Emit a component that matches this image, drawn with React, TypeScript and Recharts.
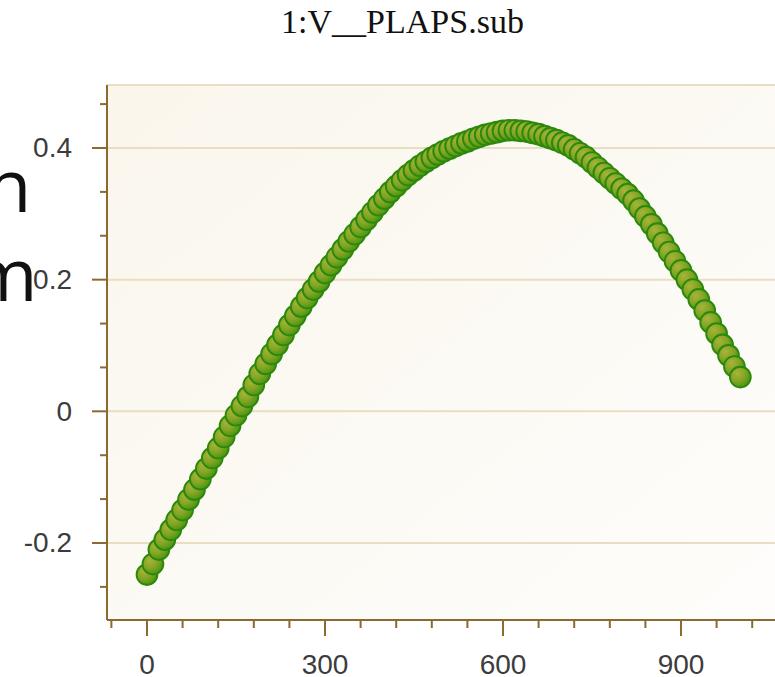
import React from "react";
import { CartesianGrid, Scatter, ScatterChart, XAxis, YAxis } from "recharts";

const sweepX = [
  0, 10, 20, 30, 40, 50, 60, 70, 80, 90,
  100, 110, 120, 130, 140, 150, 160, 170, 180, 190,
  200, 210, 220, 230, 240, 250, 260, 270, 280, 290,
  300, 310, 320, 330, 340, 350, 360, 370, 380, 390,
  400, 410, 420, 430, 440, 450, 460, 470, 480, 490,
  500, 510, 520, 530, 540, 550, 560, 570, 580, 590,
  600, 610, 620, 630, 640, 650, 660, 670, 680, 690,
  700, 710, 720, 730, 740, 750, 760, 770, 780, 790,
  800, 810, 820, 830, 840, 850, 860, 870, 880, 890,
  900, 910, 920, 930, 940, 950, 960, 970, 980, 990,
  1000,
];
const sweepY = [
  -0.248, -0.232, -0.21, -0.195, -0.18, -0.165, -0.15, -0.134, -0.119, -0.103,
  -0.087, -0.071, -0.056, -0.039, -0.022, -0.006, 0.008, 0.022, 0.04, 0.057,
  0.072, 0.087, 0.101, 0.116, 0.131, 0.145, 0.159, 0.172, 0.185, 0.197,
  0.21, 0.222, 0.234, 0.246, 0.258, 0.269, 0.28, 0.291, 0.302, 0.313,
  0.323, 0.333, 0.342, 0.351, 0.359, 0.366, 0.373, 0.379, 0.385, 0.39,
  0.395, 0.399, 0.403, 0.407, 0.41, 0.414, 0.417, 0.42, 0.422, 0.424,
  0.426, 0.427, 0.427, 0.426, 0.425, 0.423, 0.421, 0.418, 0.415, 0.412,
  0.408, 0.404, 0.398, 0.392, 0.386, 0.378, 0.37, 0.362, 0.354, 0.346,
  0.338, 0.33, 0.32, 0.308, 0.296, 0.284, 0.27, 0.256, 0.242, 0.228,
  0.214, 0.2, 0.185, 0.17, 0.153, 0.135, 0.118, 0.101, 0.085, 0.068,
  0.052,
];

const xTicks = [-60, 0, 60, 120, 180, 240, 300, 360, 420, 480, 540, 600, 660, 720, 780, 840, 900, 960, 1020];
const xLabels = [0, 300, 600, 900];
const yTicks = [-0.2667, -0.2, -0.1333, -0.0667, 0, 0.0667, 0.1333, 0.2, 0.2667, 0.3333, 0.4, 0.4667];
const yLabels = [-0.2, 0, 0.2, 0.4];
const gridValues = [-0.2, 0, 0.2, 0.4, 0.4957];

const points = sweepX.map((x, i) => ({ x, y: sweepY[i] }));

const AXIS = "#8a6a30";
const LABEL = "#3c3c3c";
const TICK_FONT = "'Liberation Sans', Arial, sans-serif";

const XTick = (props: any) => {
  const { x, y, payload } = props;
  const major = xLabels.includes(payload.value);
  return (
    <g>
      <line x1={x} x2={x} y1={y} y2={y + (major ? 16 : 8)} stroke={AXIS} strokeWidth={2} />
      {major && (
        <text x={x} y={y + 44} textAnchor="middle" dominantBaseline="central"
          fontFamily={TICK_FONT} fontSize={28} fill={LABEL}>
          {payload.value}
        </text>
      )}
    </g>
  );
};

const YTick = (props: any) => {
  const { x, y, payload } = props;
  const major = yLabels.includes(payload.value);
  return (
    <g>
      <line x1={x - (major ? 15 : 7)} x2={x} y1={y} y2={y} stroke={AXIS} strokeWidth={2} />
      {major && (
        <text x={x - 35} y={y} textAnchor="end" dominantBaseline="central"
          fontFamily={TICK_FONT} fontSize={28} fill={LABEL}>
          {String(payload.value)}
        </text>
      )}
    </g>
  );
};

const Dot = (props: any) => {
  const { cx, cy } = props;
  if (cx == null || cy == null) return null;
  return <circle cx={cx} cy={cy} r={10.4} fill="url(#dotFill)" stroke="#2a890b" strokeWidth={1.9} />;
};

export default function App() {
  return (
    <div style={{ position: "absolute", left: 0, top: 0, width: 775, height: 677, overflow: "hidden", background: "#fff" }}>
      <div style={{
        position: "absolute", left: 0, right: 0, top: 3, textAlign: "center",
        fontFamily: "'Liberation Serif', 'Times New Roman', serif", fontSize: 34, color: "#111",
        paddingLeft: 30,
      }}>
        1:V__PLAPS.sub
      </div>
      <div style={{ position: "absolute", left: -14, top: 139, fontFamily: "'Open Sans', sans-serif", fontSize: 74, lineHeight: "90px", color: "#111" }}>
        n
      </div>
      <div style={{ position: "absolute", left: -31, top: 228, fontFamily: "'Open Sans', sans-serif", fontSize: 74, lineHeight: "90px", color: "#111" }}>
        m
      </div>
      <div style={{ position: "absolute", left: 0, top: 0 }}>
        <ScatterChart width={775} height={677} margin={{ top: 85, right: 0, left: 0, bottom: 0 }}>
          <defs>
            <linearGradient id="plotBg" x1="0" y1="0" x2="1" y2="1">
              <stop offset="0%" stopColor="#faf6ec" />
              <stop offset="100%" stopColor="#fefdfb" />
            </linearGradient>
            <radialGradient id="dotFill" cx="35%" cy="32%" r="70%">
              <stop offset="0%" stopColor="#a8b43a" />
              <stop offset="55%" stopColor="#83a524" />
              <stop offset="100%" stopColor="#4c9412" />
            </radialGradient>
          </defs>
          <CartesianGrid
            vertical={false}
            horizontalValues={gridValues}
            stroke="#e9ddc4"
            strokeWidth={2}
            fill="url(#plotBg)"
          />
          <XAxis
            type="number"
            dataKey="x"
            domain={[-67.4, 1058.4]}
            allowDataOverflow
            ticks={xTicks}
            interval={0}
            tick={<XTick />}
            tickLine={false}
            tickSize={0}
            tickMargin={0}
            axisLine={{ stroke: AXIS, strokeWidth: 2 }}
            height={57}
          />
          <YAxis
            type="number"
            dataKey="y"
            domain={[-0.317, 0.4957]}
            allowDataOverflow
            ticks={yTicks}
            interval={0}
            tick={<YTick />}
            tickLine={false}
            tickSize={0}
            tickMargin={0}
            axisLine={{ stroke: AXIS, strokeWidth: 2 }}
            width={107}
          />
          <Scatter data={points} shape={<Dot />} isAnimationActive={false} />
        </ScatterChart>
      </div>
    </div>
  );
}
